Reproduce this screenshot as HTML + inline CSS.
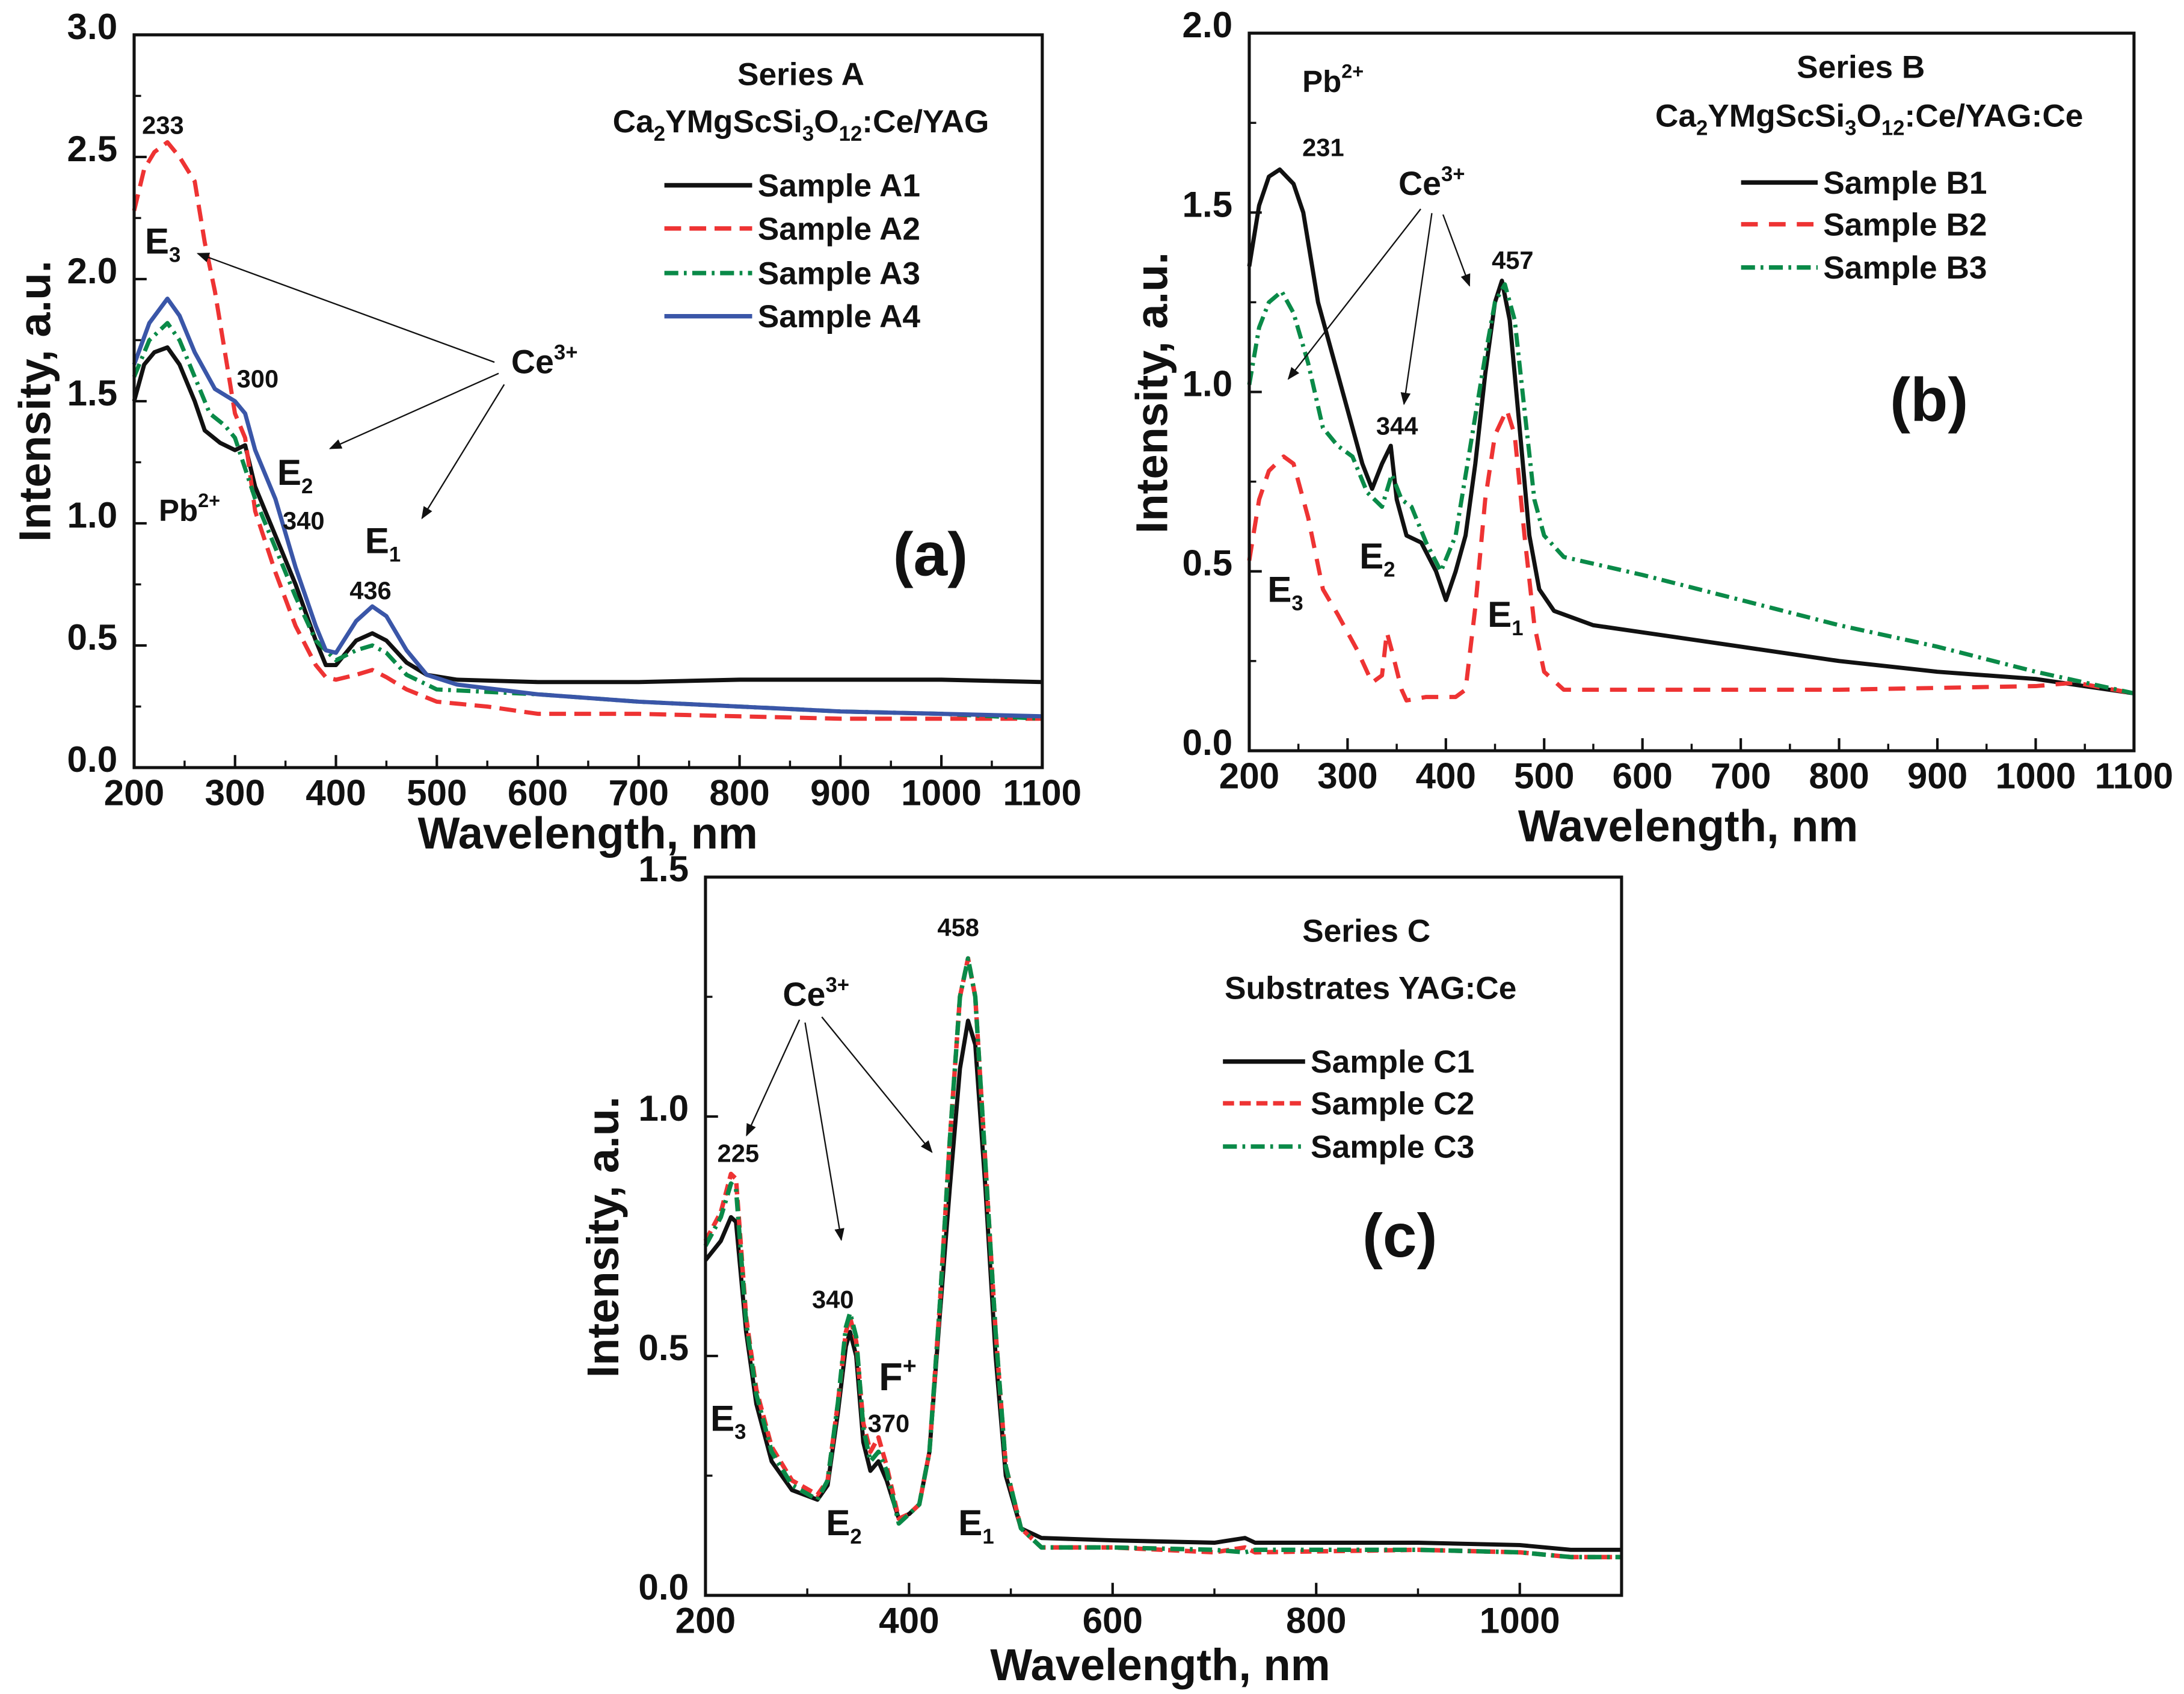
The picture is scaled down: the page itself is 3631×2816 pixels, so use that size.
<!DOCTYPE html>
<html><head><meta charset="utf-8"><style>
html,body{margin:0;padding:0;background:#fff}
svg{display:block}
text{font-family:"Liberation Sans Narrow","Liberation Sans",sans-serif;font-weight:bold;fill:#111}
</style></head><body>
<svg id="fig" width="3631" height="2816" viewBox="0 0 1568 1216" preserveAspectRatio="none" xmlns="http://www.w3.org/2000/svg">
<defs><marker id="ah" viewBox="0 0 10 10" refX="9" refY="5" markerWidth="9" markerHeight="9" markerUnits="userSpaceOnUse" orient="auto"><path d="M0,1 L10,5 L0,9 z" fill="#111"/></marker></defs>
<rect x="0" y="0" width="1568" height="1216" fill="#fff"/>
</svg>
<script>
// ---------- data ----------
const A_x1=[200,210,220,233,245,260,270,285,300,310,320,340,360,380,390,400,410,420,436,450,470,490,520,600,700,800,900,1000,1100];
const A_y1=[1.5,1.65,1.70,1.72,1.65,1.5,1.38,1.33,1.30,1.32,1.15,0.95,0.75,0.52,0.42,0.42,0.47,0.52,0.55,0.52,0.43,0.38,0.36,0.35,0.35,0.36,0.36,0.36,0.35];
const A_x2=[200,210,220,233,245,260,270,280,290,300,310,320,340,360,380,390,400,420,436,450,470,500,550,600,700,800,900,1000,1100];
const A_y2=[2.28,2.45,2.52,2.56,2.50,2.40,2.15,1.95,1.70,1.45,1.35,1.05,0.80,0.58,0.42,0.37,0.36,0.38,0.40,0.37,0.32,0.27,0.25,0.22,0.22,0.21,0.20,0.20,0.20];
const A_x3=[200,215,233,245,260,275,290,300,320,340,360,380,400,420,436,450,470,500,600,700,800,900,1000,1100];
const A_y3=[1.6,1.75,1.82,1.75,1.60,1.45,1.40,1.35,1.10,0.90,0.70,0.52,0.44,0.48,0.50,0.47,0.38,0.32,0.30,0.27,0.25,0.23,0.22,0.20];
const A_x4=[200,215,233,245,260,280,300,310,320,340,360,380,390,400,420,436,450,470,490,520,600,700,800,900,1000,1100];
const A_y4=[1.65,1.82,1.92,1.85,1.70,1.55,1.50,1.45,1.30,1.10,0.82,0.58,0.48,0.47,0.60,0.66,0.62,0.48,0.38,0.34,0.30,0.27,0.25,0.23,0.22,0.21];

const B_x1=[200,210,220,231,245,255,270,285,300,315,325,335,344,350,360,375,390,400,410,420,430,440,450,457,465,475,485,495,510,550,600,700,800,900,1000,1100];
const B_y1=[1.35,1.52,1.60,1.62,1.58,1.50,1.25,1.10,0.95,0.80,0.73,0.80,0.85,0.70,0.60,0.58,0.50,0.42,0.50,0.60,0.80,1.05,1.25,1.31,1.20,0.90,0.60,0.45,0.39,0.35,0.33,0.29,0.25,0.22,0.20,0.16];
const B_x2=[200,210,220,235,245,260,275,290,310,325,335,340,345,355,360,380,410,420,430,440,450,462,470,480,490,500,520,600,800,1000,1040,1100];
const B_y2=[0.53,0.70,0.78,0.82,0.80,0.65,0.45,0.38,0.28,0.19,0.21,0.33,0.28,0.17,0.14,0.15,0.15,0.17,0.40,0.70,0.88,0.95,0.88,0.60,0.35,0.22,0.17,0.17,0.17,0.18,0.19,0.16];
const B_x3=[200,210,220,233,245,260,275,290,305,320,335,345,355,365,380,395,410,425,440,450,460,470,480,490,500,520,600,700,800,900,1000,1100];
const B_y3=[1.02,1.18,1.25,1.28,1.22,1.08,0.90,0.85,0.82,0.72,0.68,0.77,0.70,0.68,0.58,0.50,0.60,0.85,1.10,1.25,1.30,1.20,0.95,0.70,0.60,0.54,0.49,0.42,0.35,0.29,0.22,0.16];

const C_x=[200,215,225,230,240,250,265,285,310,320,330,338,342,348,355,362,370,378,390,400,410,420,430,440,450,458,465,475,485,495,510,530,600,700,730,740,900,1000,1050,1100];
const C_y1=[0.70,0.74,0.79,0.78,0.55,0.40,0.28,0.22,0.20,0.23,0.38,0.52,0.55,0.50,0.32,0.26,0.28,0.24,0.16,0.17,0.19,0.30,0.58,0.85,1.10,1.20,1.15,0.85,0.50,0.25,0.14,0.12,0.115,0.11,0.12,0.11,0.11,0.105,0.095,0.095];
const C_y2=[0.74,0.80,0.88,0.87,0.58,0.43,0.31,0.24,0.21,0.24,0.40,0.55,0.58,0.53,0.36,0.30,0.33,0.27,0.16,0.17,0.19,0.30,0.60,0.95,1.25,1.33,1.25,0.90,0.55,0.27,0.14,0.10,0.10,0.09,0.10,0.09,0.095,0.09,0.08,0.08];
const C_y3=[0.73,0.79,0.86,0.85,0.57,0.42,0.30,0.23,0.20,0.24,0.40,0.56,0.59,0.54,0.35,0.28,0.30,0.26,0.15,0.17,0.19,0.30,0.60,0.95,1.25,1.33,1.25,0.90,0.55,0.27,0.14,0.10,0.10,0.095,0.09,0.095,0.095,0.09,0.08,0.08];

const A_yticks=["0.0","0.5","1.0","1.5","2.0","2.5","3.0"];
const AB_xticks=["200","300","400","500","600","700","800","900","1000","1100"];
const B_yticks=["0.0","0.5","1.0","1.5","2.0"];
const C_yticks=["0.0","0.5","1.0","1.5"];
const C_xticks=["200","400","600","800","1000"];

const svg=document.getElementById('fig');
const NS='http://www.w3.org/2000/svg';
function mk(tag,attrs,parent){const e=document.createElementNS(NS,tag);for(const k in attrs)e.setAttribute(k,attrs[k]);(parent||svg).appendChild(e);return e;}
function txt(parent,x,y,size,anchor,content,name){
  const t=mk('text',{x:x,y:y,'font-size':size,'text-anchor':anchor},parent);
  t.innerHTML=content;
  
  
  return t;}

function panel(id,box,xmin,xmax,ymin,ymax,xticks,xminor,yticks,yminor){
  const g=mk('g',{});
  
  
  const sx=v=>box.l+(v-xmin)/(xmax-xmin)*(box.r-box.l);
  const sy=v=>box.b-(v-ymin)/(ymax-ymin)*(box.b-box.t);
  xticks.forEach(s=>{const v=+s;const X=sx(v);
    const l=mk('line',{x1:X,x2:X,y1:box.b,y2:box.b-9,stroke:'#111','stroke-width':1.8},g);
    
    
    txt(g,X,box.b+27,26,'middle',s,'x-tick-label');});
  for(let v=xmin+xminor;v<xmax;v+=xminor){ if(xticks.indexOf(String(v))>=0) continue;
    const l=mk('line',{x1:sx(v),x2:sx(v),y1:box.b,y2:box.b-5,stroke:'#111','stroke-width':1.5},g);
    
    }
  yticks.forEach(s=>{const v=+s;const Y=sy(v);
    const l=mk('line',{x1:box.l,x2:box.l+9,y1:Y,y2:Y,stroke:'#111','stroke-width':1.8},g);
    
    
    txt(g,box.l-12,Y+3,26,'end',s,'y-tick-label');});
  for(let v=ymin+yminor;v<ymax-1e-9;v+=2*yminor){
    const l=mk('line',{x1:box.l,x2:box.l+5,y1:sy(v),y2:sy(v),stroke:'#111','stroke-width':1.5},g);
    
    }
  return {g,sx,sy};
}
function series(P,xs,ys,color,dash,w,name){
  const d=xs.map((x,i)=>(i?'L':'M')+P.sx(x).toFixed(1)+','+P.sy(ys[i]).toFixed(1)).join(' ');
  const p=mk('path',{d:d,fill:'none',stroke:color,'stroke-width':w,'stroke-dasharray':dash,'stroke-linejoin':'round'},P.g);
  
  
}
function frame(P,box){
  const r=mk('rect',{x:box.l,y:box.t,width:box.r-box.l,height:box.b-box.t,fill:'none',stroke:'#111','stroke-width':2.2},P.g);
  
  
}
function legendEntry(P,x1,x2,y,color,dash,label,name){
  const l=mk('line',{x1:x1,x2:x2,y1:y,y2:y,stroke:color,'stroke-width':3.2,'stroke-dasharray':dash},P.g);
  
  
  txt(P.g,x2+4,y+8,23,'start',label,name);
}
function arrow(P,x1,y1,x2,y2){
  const l=mk('line',{x1:x1,y1:y1,x2:x2,y2:y2,stroke:'#111','stroke-width':1,'marker-end':'url(#ah)'},P.g);
  
  
}
const RED='#ee3333',GRN='#0a8a48',BLU='#3a56a8',BLK='#111';
const sub=(a,b)=>a+'<tspan dy="6" font-size="15">'+b+'</tspan>';
const formula='Ca<tspan dy="6" font-size="15">2</tspan><tspan dy="-6">YMgScSi</tspan><tspan dy="6" font-size="15">3</tspan><tspan dy="-6">O</tspan><tspan dy="6" font-size="15">12</tspan><tspan dy="-6">:Ce/YAG</tspan>';

// ---------- panel A ----------
const bA={l:96.3,r:748.3,t:25,b:551};
const PA=panel('a',bA,200,1100,0,3,AB_xticks,50,A_yticks,0.25);
series(PA,A_x1,A_y1,BLK,'',3,'series-a1');
series(PA,A_x2,A_y2,RED,'12,6',3,'series-a2');
series(PA,A_x3,A_y3,GRN,'10,4,2,4',3,'series-a3');
series(PA,A_x4,A_y4,BLU,'',3,'series-a4');
frame(PA,bA);
txt(PA.g,422,609,32,'middle','Wavelength, nm','x-axis-title');
const ya=txt(PA.g,0,0,32,'middle','Intensity, a.u.','y-axis-title');ya.setAttribute('transform','translate(36,288) rotate(-90)');
txt(PA.g,575,61,23,'middle','Series A','legend-title');
txt(PA.g,575,95,23,'middle',formula,'legend-subtitle');
legendEntry(PA,477,540,133,BLK,'','Sample A1','legend-entry-a1');
legendEntry(PA,477,540,164,RED,'12,6','Sample A2','legend-entry-a2');
legendEntry(PA,477,540,196,GRN,'10,4,2,4','Sample A3','legend-entry-a3');
legendEntry(PA,477,540,227,BLU,'','Sample A4','legend-entry-a4');
txt(PA.g,117,96,18,'middle','233','peak-label-233');
txt(PA.g,104,182,26,'start',sub('E','3'),'label-e3');
txt(PA.g,185,278,18,'middle','300','peak-label-300');
txt(PA.g,367,268,24,'start','Ce<tspan dy="-10" font-size="15">3+</tspan>','label-ce3');
txt(PA.g,199,348,26,'start',sub('E','2'),'label-e2');
txt(PA.g,114,374,22,'start','Pb<tspan dy="-10" font-size="14">2+</tspan>','label-pb2');
txt(PA.g,218,380,18,'middle','340','peak-label-340');
txt(PA.g,262,397,26,'start',sub('E','1'),'label-e1');
txt(PA.g,266,430,18,'middle','436','peak-label-436');
txt(PA.g,668,413,44,'middle','(a)','panel-label-a');
arrow(PA,355,260,142,182);arrow(PA,358,268,237,322);arrow(PA,362,276,303,372);

// ---------- panel B ----------
const bB={l:896.9,r:1532.1,t:23.8,b:538.9};
const PB=panel('b',bB,200,1100,0,2,AB_xticks,50,B_yticks,0.25);
series(PB,B_x1,B_y1,BLK,'',3,'series-b1');
series(PB,B_x2,B_y2,RED,'12,8',3,'series-b2');
series(PB,B_x3,B_y3,GRN,'10,4,2,4',3,'series-b3');
frame(PB,bB);
txt(PB.g,1212,604,32,'middle','Wavelength, nm','x-axis-title');
const yb=txt(PB.g,0,0,32,'middle','Intensity, a.u.','y-axis-title');yb.setAttribute('transform','translate(838,282) rotate(-90)');
txt(PB.g,1336,56,23,'middle','Series B','legend-title');
txt(PB.g,1342,91,23,'middle',formula+'<tspan>:Ce</tspan>','legend-subtitle');
legendEntry(PB,1250,1305,131,BLK,'','Sample B1','legend-entry-b1');
legendEntry(PB,1250,1305,161,RED,'12,8','Sample B2','legend-entry-b2');
legendEntry(PB,1250,1305,192,GRN,'10,4,2,4','Sample B3','legend-entry-b3');
txt(PB.g,935,66,22,'start','Pb<tspan dy="-10" font-size="14">2+</tspan>','label-pb2');
txt(PB.g,950,112,18,'middle','231','peak-label-231');
txt(PB.g,1004,140,24,'start','Ce<tspan dy="-10" font-size="15">3+</tspan>','label-ce3');
txt(PB.g,1003,312,18,'middle','344','peak-label-344');
txt(PB.g,1086,193,18,'middle','457','peak-label-457');
txt(PB.g,1385,302,44,'middle','(b)','panel-label-b');
txt(PB.g,976,408,26,'start',sub('E','2'),'label-e2');
txt(PB.g,910,432,26,'start',sub('E','3'),'label-e3');
txt(PB.g,1068,450,26,'start',sub('E','1'),'label-e1');
arrow(PB,1020,150,925,272);arrow(PB,1028,153,1008,290);arrow(PB,1036,154,1055,205);

// ---------- panel C ----------
const bC={l:506.5,r:1164.2,t:629.6,b:1145.2};
const PC=panel('c',bC,200,1100,0,1.5,C_xticks,100,C_yticks,0.25);
series(PC,C_x,C_y1,BLK,'',3,'series-c1');
series(PC,C_x,C_y2,RED,'8,4',3.2,'series-c2');
series(PC,C_x,C_y3,GRN,'10,4,2,4',3.2,'series-c3');
frame(PC,bC);
txt(PC.g,833,1206,32,'middle','Wavelength, nm','x-axis-title');
const yc=txt(PC.g,0,0,32,'middle','Intensity, a.u.','y-axis-title');yc.setAttribute('transform','translate(444,888) rotate(-90)');
txt(PC.g,981,676,23,'middle','Series C','legend-title');
txt(PC.g,984,717,23,'middle','Substrates YAG:Ce','legend-subtitle');
legendEntry(PC,878,937,762,BLK,'','Sample C1','legend-entry-c1');
legendEntry(PC,878,937,792,RED,'8,4','Sample C2','legend-entry-c2');
legendEntry(PC,878,937,823,GRN,'10,4,2,4','Sample C3','legend-entry-c3');
txt(PC.g,562,722,24,'start','Ce<tspan dy="-10" font-size="15">3+</tspan>','label-ce3');
txt(PC.g,688,672,18,'middle','458','peak-label-458');
txt(PC.g,530,834,18,'middle','225','peak-label-225');
txt(PC.g,598,939,18,'middle','340','peak-label-340');
txt(PC.g,631,998,28,'start','F<tspan dy="-12" font-size="17">+</tspan>','label-f-plus');
txt(PC.g,638,1028,18,'middle','370','peak-label-370');
txt(PC.g,510,1027,26,'start',sub('E','3'),'label-e3');
txt(PC.g,593,1102,26,'start',sub('E','2'),'label-e2');
txt(PC.g,688,1102,26,'start',sub('E','1'),'label-e1');
txt(PC.g,1005,902,44,'middle','(c)','panel-label-c');
arrow(PC,574,732,536,815);arrow(PC,578,734,604,890);arrow(PC,590,730,669,827);
</script>
</body></html>
